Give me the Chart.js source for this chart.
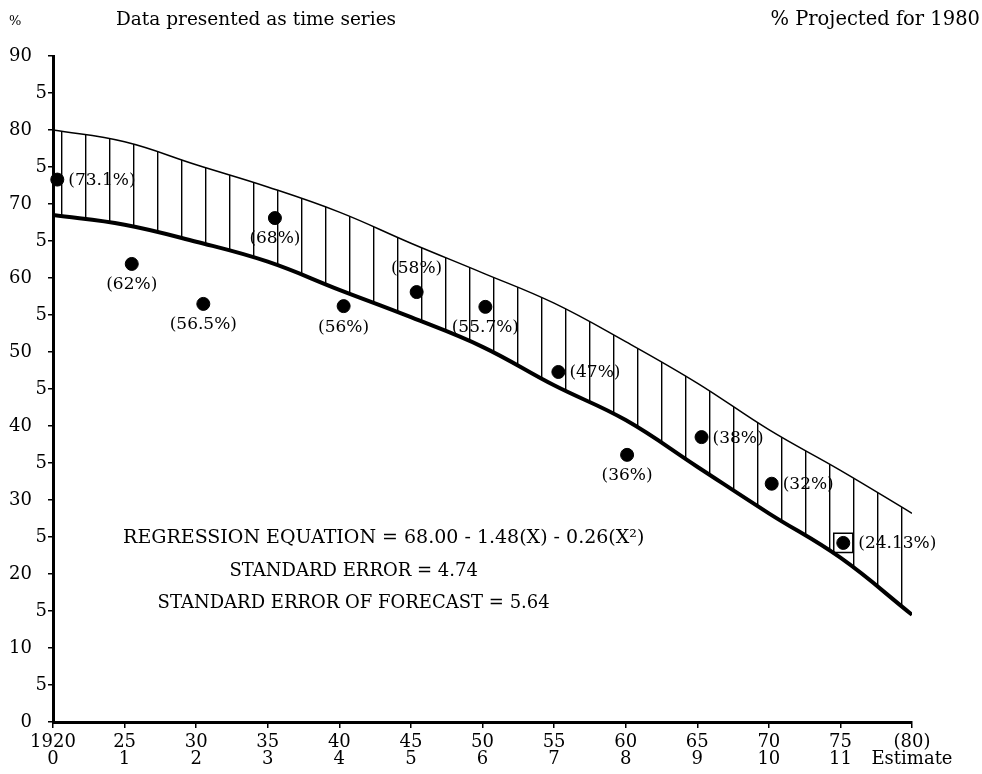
<!DOCTYPE html>
<html>
    <head>
        <script src="https://cdn.jsdelivr.net/npm/chart.js"></script>
        <style>
            body { margin: 0; background: #fff; }
            canvas { display: block; }
        </style>
    </head>
    <body>
        <canvas id="myChart" width="982" height="774"></canvas>

        <script>
            // band (regression curve and upper limit), read at every 5-year tick
            const bandYears = [1920, 1925, 1930, 1935, 1940, 1945, 1950, 1955, 1960, 1965, 1970, 1975, 1980];
            const upperBand = [80.0, 78.4, 75.3, 72.3, 68.9, 64.7, 60.7, 56.6, 51.4, 45.8, 39.5, 34.0, 28.2];
            const lowerBand = [68.5, 67.2, 64.9, 62.2, 58.4, 54.7, 50.7, 45.5, 40.8, 34.5, 28.2, 22.2, 14.5];

            // observed values
            const obsYears = [1920.3, 1925.5, 1930.5, 1935.5, 1940.3, 1945.4, 1950.2, 1955.3, 1960.1, 1965.3, 1970.2, 1975.2];
            const obsValues = [73.3, 61.9, 56.5, 68.1, 56.2, 58.1, 56.1, 47.3, 36.1, 38.5, 32.2, 24.2];
            const obsLabels = ['(73.1%)', '(62%)', '(56.5%)', '(68%)', '(56%)', '(58%)', '(55.7%)', '(47%)', '(36%)', '(38%)', '(32%)', '(24.13%)'];
            const labelSide = ['right', 'below', 'below', 'below', 'below', 'above', 'below', 'right', 'below', 'right', 'right', 'right'];

            // boxed (projected) point
            const boxYears = [1975.2];
            const boxValues = [24.2];

            // tick labels
            const yearTicks = ['1920', '25', '30', '35', '40', '45', '50', '55', '60', '65', '70', '75', '(80)'];
            const indexTicks = ['0', '1', '2', '3', '4', '5', '6', '7', '8', '9', '10', '11', 'Estimate'];

            const notes = [
                'REGRESSION EQUATION = 68.00 - 1.48(X) - 0.26(X\u00b2)',
                'STANDARD ERROR = 4.74',
                'STANDARD ERROR OF FORECAST = 5.64'
            ];

            const FONT = '"DejaVu Serif", "Liberation Serif", serif';

            const ctx = document.getElementById('myChart').getContext('2d');

            // vertical hatching for the band
            const tile = document.createElement('canvas');
            tile.width = 24;
            tile.height = 4;
            const tc = tile.getContext('2d');
            tc.fillStyle = '#000';
            tc.fillRect(13, 0, 1.4, 4);
            const hatch = ctx.createPattern(tile, 'repeat');

            const textPlugin = {
                id: 'texts',
                afterDatasetsDraw(chart) {
                    const c = chart.ctx;
                    const xs = chart.scales.x, ys = chart.scales.y;
                    c.save();
                    c.fillStyle = '#000';

                    // point labels
                    c.font = '17px ' + FONT;
                    obsValues.forEach((v, i) => {
                        const px = xs.getPixelForValue(obsYears[i]);
                        const py = ys.getPixelForValue(v);
                        c.textBaseline = 'middle';
                        if (labelSide[i] === 'right') {
                            c.textAlign = 'left';
                            c.fillText(obsLabels[i], px + (i === 11 ? 15 : 11), py + 1);
                        } else if (labelSide[i] === 'below') {
                            c.textAlign = 'center';
                            c.fillText(obsLabels[i], px, py + 21);
                        } else {
                            c.textAlign = 'center';
                            c.fillText(obsLabels[i], px, py - 23);
                        }
                    });

                    // regression notes
                    c.textAlign = 'center';
                    c.font = '19px ' + FONT;
                    c.fillText(notes[0], xs.getPixelForValue(1943.1), ys.getPixelForValue(24.9));
                    c.font = '18px ' + FONT;
                    c.fillText(notes[1], xs.getPixelForValue(1941.0), ys.getPixelForValue(20.4));
                    c.fillText(notes[2], xs.getPixelForValue(1941.0), ys.getPixelForValue(16.0));

                    // header
                    c.textBaseline = 'alphabetic';
                    c.font = '13px ' + FONT;
                    c.textAlign = 'left';
                    c.fillText('%', 9, 25);
                    c.font = '18.5px ' + FONT;
                    c.fillText('Data presented as time series', 116, 25);
                    c.font = '19.5px ' + FONT;
                    c.textAlign = 'right';
                    c.fillText('% Projected for 1980', 980, 25);
                    c.restore();
                }
            };

            const myChart = new Chart(ctx, {
                type: 'scatter',
                data: {
                    datasets: [
                        {
                            label: 'upper',
                            type: 'line',
                            data: bandYears.map((x, i) => ({ x: x, y: upperBand[i] })),
                            borderColor: '#000',
                            borderWidth: 1.5,
                            pointRadius: 0,
                            tension: 0.4,
                            fill: '+1',
                            backgroundColor: hatch
                        }, {
                            label: 'lower',
                            type: 'line',
                            data: bandYears.map((x, i) => ({ x: x, y: lowerBand[i] })),
                            borderColor: '#000',
                            borderWidth: 4,
                            pointRadius: 0,
                            tension: 0.4,
                            fill: false
                        }, {
                            label: 'observed',
                            data: obsYears.map((x, i) => ({ x: x, y: obsValues[i] })),
                            pointRadius: 6.5,
                            backgroundColor: '#000',
                            borderColor: '#000',
                            clip: false
                        }, {
                            label: 'projected',
                            data: boxYears.map((x, i) => ({ x: x, y: boxValues[i] })),
                            pointStyle: 'rect',
                            pointRadius: 13.5,
                            backgroundColor: 'rgba(0,0,0,0)',
                            borderColor: '#000',
                            borderWidth: 1.5
                        }
                    ]
                },
                options: {
                    responsive: false,
                    animation: false,
                    layout: { padding: { top: 56, right: 70, left: 0, bottom: 0 } },
                    plugins: {
                        legend: { display: false },
                        tooltip: { enabled: false }
                    },
                    scales: {
                        x: {
                            type: 'linear',
                            min: 1920,
                            max: 1980,
                            afterFit: (s) => { s.height = 52; },
                            border: { display: true, color: '#000', width: 3 },
                            grid: { drawOnChartArea: false, drawTicks: true, tickLength: 6, color: '#000', lineWidth: 1.5 },
                            ticks: {
                                stepSize: 5,
                                color: '#000',
                                padding: 6,
                                maxRotation: 0,
                                autoSkip: false,
                                font: { family: FONT, size: 18, lineHeight: 0.95 },
                                callback: (v) => {
                                    const i = Math.round((v - 1920) / 5);
                                    return [yearTicks[i], indexTicks[i]];
                                }
                            }
                        },
                        y: {
                            min: 0,
                            max: 90,
                            afterFit: (s) => { s.width = 53; },
                            border: { display: true, color: '#000', width: 3 },
                            grid: { drawOnChartArea: false, drawTicks: true, tickLength: 5, color: '#000', lineWidth: 1.5 },
                            ticks: {
                                stepSize: 5,
                                color: '#000',
                                padding: 1,
                                font: { family: FONT, size: 18 },
                                callback: (v) => (v % 10 === 0 ? String(v) + '\u2007\u2009' : '5')
                            }
                        }
                    }
                },
                plugins: [textPlugin]
            });
        </script>
    </body>
</html>
